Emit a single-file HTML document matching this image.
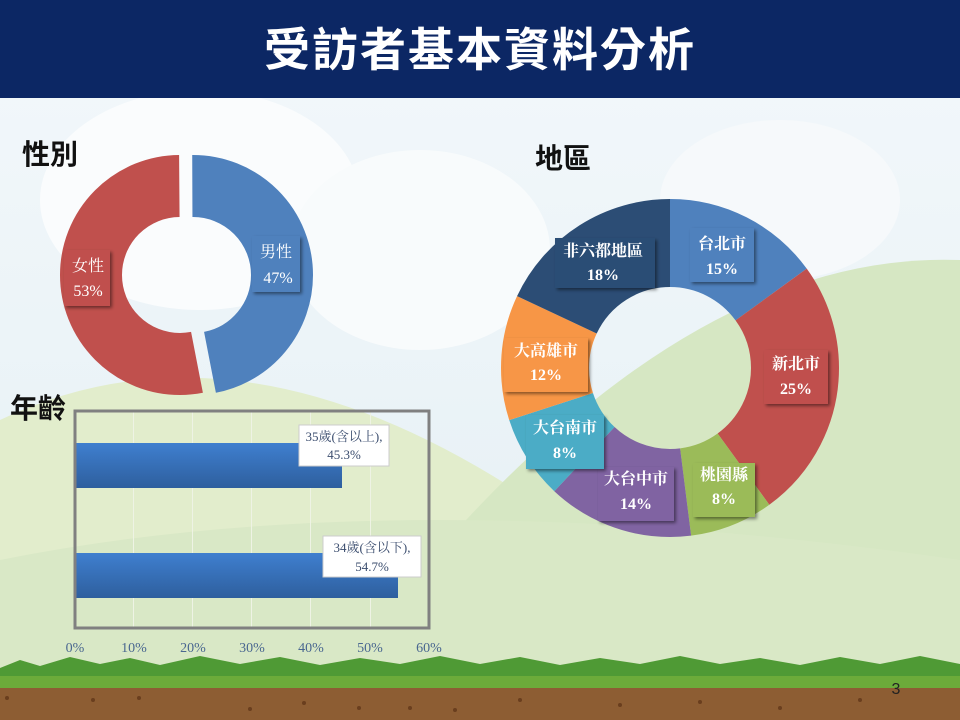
<!DOCTYPE html>
<html><head><meta charset="utf-8"><style>
html,body{margin:0;padding:0;width:960px;height:720px;overflow:hidden}
body{font-family:"Liberation Sans","Noto Sans CJK TC",sans-serif}
</style></head><body>
<svg width="960" height="720" viewBox="0 0 960 720" xmlns="http://www.w3.org/2000/svg">
<defs>
<linearGradient id="sky" x1="0" y1="0" x2="0" y2="1">
<stop offset="0" stop-color="#f3f8fb"/><stop offset="1" stop-color="#e4eff4"/>
</linearGradient>
<linearGradient id="bar" x1="0" y1="0" x2="0" y2="1">
<stop offset="0" stop-color="#3f7fcf"/><stop offset="1" stop-color="#2e5f9e"/>
</linearGradient>
<filter id="sh" x="-20%" y="-20%" width="150%" height="150%"><feDropShadow dx="2" dy="2" stdDeviation="1.5" flood-opacity="0.45"/></filter>
</defs>
<rect width="960" height="720" fill="url(#sky)"/>
<ellipse cx="200" cy="200" rx="160" ry="110" fill="#fafcfd"/>
<ellipse cx="420" cy="250" rx="130" ry="100" fill="#f8fbfc"/>
<ellipse cx="780" cy="200" rx="120" ry="80" fill="#f6f9fb"/>
<path d="M0 420 Q250 300 560 520 L560 720 L0 720 Z" fill="#e2edcc"/>
<path d="M430 560 Q700 250 960 260 L960 720 L430 720 Z" fill="#d6e7c3"/>
<path d="M0 560 Q400 480 960 560 L960 720 L0 720 Z" fill="#d9e8c6"/>
<path d="M0 668 L20 660 L40 666 L70 657 L100 664 L130 658 L160 665 L200 656 L240 664 L280 657 L320 665 L360 658 L400 664 L440 656 L480 664 L520 657 L560 665 L600 658 L640 664 L680 656 L720 664 L760 658 L800 665 L840 657 L880 664 L920 656 L960 664 L960 690 L0 690 Z" fill="#4f9a35"/>
<rect y="676" width="960" height="12" fill="#6cab3a"/>
<rect y="688" width="960" height="32" fill="#8d5d33"/>
<g fill="#6a3e1e"><circle cx="7" cy="698" r="2"/><circle cx="93" cy="700" r="2"/><circle cx="139" cy="698" r="2"/><circle cx="250" cy="709" r="2"/><circle cx="304" cy="703" r="2"/><circle cx="359" cy="708" r="2"/><circle cx="410" cy="708" r="2"/><circle cx="455" cy="710" r="2"/><circle cx="520" cy="700" r="2"/><circle cx="620" cy="705" r="2"/><circle cx="700" cy="702" r="2"/><circle cx="780" cy="708" r="2"/><circle cx="860" cy="700" r="2"/></g>
<rect width="960" height="98" fill="#0c2764"/>
<text x="480" y="66" text-anchor="middle" font-size="46" font-weight="bold" fill="#fff" font-family="'Noto Sans CJK TC',sans-serif" letter-spacing="2">受訪者基本資料分析</text>
<g font-family="'Noto Sans CJK TC',sans-serif" font-weight="bold" font-size="28" fill="#111">
<text x="22" y="164">性別</text>
<text x="535" y="168">地區</text>
<text x="10" y="418">年齡</text>
</g>
<circle cx="180" cy="275" r="89" fill="none" stroke="#c0504d" stroke-width="62" pathLength="100" stroke-dasharray="0 47 53 0" transform="rotate(-90 180 275)"/>
<circle cx="193" cy="275" r="89" fill="none" stroke="#4f81bd" stroke-width="62" pathLength="100" stroke-dasharray="47 53" transform="rotate(-90 193 275)"/>
<g font-family="'Liberation Serif','Noto Serif CJK SC',serif" font-size="16" fill="#fff" text-anchor="middle">
<rect x="252" y="236" width="48" height="56" fill="#4f81bd" filter="url(#sh)"/>
<text x="276" y="257">男性</text><text x="278" y="283">47%</text>
<rect x="64" y="250" width="46" height="56" fill="#c0504d" filter="url(#sh)"/>
<text x="88" y="271">女性</text><text x="88" y="296">53%</text>
</g>
<g fill="none" stroke-width="88" transform="rotate(-90 670 368)">
<circle cx="670" cy="368" r="125" stroke="#4f81bd" pathLength="100" stroke-dasharray="15 85"/>
<circle cx="670" cy="368" r="125" stroke="#c0504d" pathLength="100" stroke-dasharray="0 15 25 60"/>
<circle cx="670" cy="368" r="125" stroke="#9bbb59" pathLength="100" stroke-dasharray="0 40 8 52"/>
<circle cx="670" cy="368" r="125" stroke="#8064a2" pathLength="100" stroke-dasharray="0 48 14 38"/>
<circle cx="670" cy="368" r="125" stroke="#4bacc6" pathLength="100" stroke-dasharray="0 62 8 30"/>
<circle cx="670" cy="368" r="125" stroke="#f79646" pathLength="100" stroke-dasharray="0 70 12 18"/>
<circle cx="670" cy="368" r="125" stroke="#2c4d75" pathLength="100" stroke-dasharray="0 82 18 0"/>
</g>
<g font-family="'Liberation Serif','Noto Serif CJK SC',serif" font-weight="bold" font-size="16" fill="#fff" text-anchor="middle">
<rect x="690" y="228" width="64" height="54" fill="#4f81bd" filter="url(#sh)"/>
<text x="722" y="249">台北市</text><text x="722" y="274">15%</text>
<rect x="764" y="350" width="64" height="54" fill="#c0504d" filter="url(#sh)"/>
<text x="796" y="369">新北市</text><text x="796" y="394">25%</text>
<rect x="693" y="463" width="62" height="54" fill="#9bbb59" filter="url(#sh)"/>
<text x="724" y="480">桃園縣</text><text x="724" y="504">8%</text>
<rect x="598" y="467" width="76" height="54" fill="#8064a2" filter="url(#sh)"/>
<text x="636" y="484">大台中市</text><text x="636" y="509">14%</text>
<rect x="526" y="415" width="78" height="54" fill="#4bacc6" filter="url(#sh)"/>
<text x="565" y="433">大台南市</text><text x="565" y="458">8%</text>
<rect x="504" y="338" width="84" height="54" fill="#f79646" filter="url(#sh)"/>
<text x="546" y="356">大高雄市</text><text x="546" y="380">12%</text>
<rect x="555" y="238" width="100" height="50" fill="#2c4d75" filter="url(#sh)"/>
<text x="603" y="256">非六都地區</text><text x="603" y="280">18%</text>
</g>
<g stroke="#eef3e4" stroke-width="1">
<line x1="133.5" y1="412" x2="133.5" y2="627"/><line x1="192.5" y1="412" x2="192.5" y2="627"/><line x1="251.5" y1="412" x2="251.5" y2="627"/><line x1="310.5" y1="412" x2="310.5" y2="627"/><line x1="370.5" y1="412" x2="370.5" y2="627"/>
</g>
<rect x="75" y="443" width="267" height="45" fill="url(#bar)"/>
<rect x="75" y="553" width="323" height="45" fill="url(#bar)"/>
<rect x="75" y="411" width="354" height="217" fill="none" stroke="#808080" stroke-width="3"/>
<g font-family="'Liberation Serif','Noto Serif CJK SC',serif" font-size="13" fill="#3b4d6e" text-anchor="middle">
<rect x="299" y="425" width="90" height="41" fill="#fff" stroke="#ccc"/>
<text x="344" y="441">35歲(含以上),</text><text x="344" y="459">45.3%</text>
<rect x="323" y="536" width="98" height="41" fill="#fff" stroke="#ccc"/>
<text x="372" y="552">34歲(含以下),</text><text x="372" y="571">54.7%</text>
</g>
<g font-family="'Liberation Serif',serif" font-size="14" fill="#4a6790" text-anchor="middle">
<text x="75" y="652">0%</text><text x="134" y="652">10%</text><text x="193" y="652">20%</text><text x="252" y="652">30%</text><text x="311" y="652">40%</text><text x="370" y="652">50%</text><text x="429" y="652">60%</text>
</g>
<text x="896" y="694" font-size="16" fill="#222" text-anchor="middle">3</text>
</svg>
</body></html>
